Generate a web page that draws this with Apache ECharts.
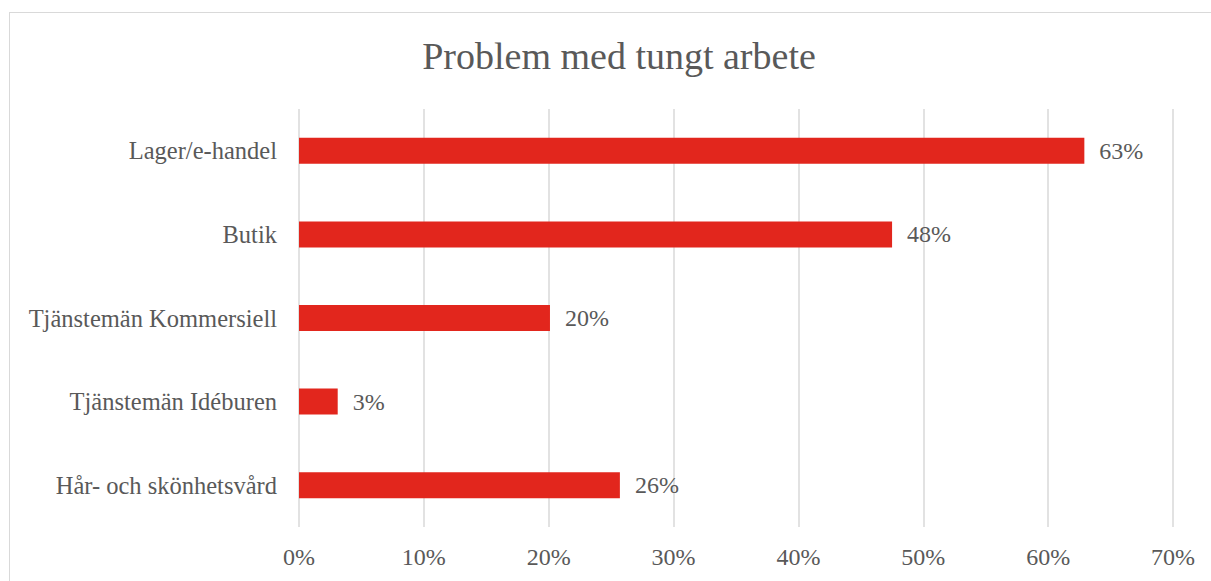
<!DOCTYPE html>
<html>
<head>
<meta charset="utf-8">
<script src="https://cdn.jsdelivr.net/npm/echarts@6/dist/echarts.min.js"></script>
<style>
  html, body { margin: 0; padding: 0; background: #fff; }
  #chart { width: 1211px; height: 581px; position: relative; }
  #frame { position: absolute; left: 9px; top: 12px; width: 1220px; height: 600px;
           border: 1px solid #d9d9d9; box-sizing: border-box; pointer-events: none; }
</style>
</head>
<body>
<div id="chart"></div>
<div id="frame"></div>
<script>
var categories = ['Lager/e-handel', 'Butik', 'Tjänstemän Kommersiell', 'Tjänstemän Idéburen', 'Hår- och skönhetsvård'];
var shares = [62.9, 47.5, 20.1, 3.1, 25.7];
var tickMax = 70;
var tickStep = 10;

var serif = '"Liberation Serif", "DejaVu Serif", serif';
var textGray = '#595959';
var gridGray = '#d9d9d9';
var barRed = '#e2261d';

var chart = echarts.init(document.getElementById('chart'), null, { renderer: 'svg' });
chart.setOption({
  animation: false,
  title: {
    text: 'Problem med tungt arbete',
    left: 614,
    top: 32,
    textAlign: 'center',
    textStyle: { fontFamily: serif, fontSize: 38, fontWeight: 'normal', color: textGray }
  },
  grid: { left: 299, right: 38, top: 109, bottom: 54 },
  xAxis: {
    type: 'value',
    min: 0,
    max: tickMax,
    interval: tickStep,
    axisLine: { show: false },
    axisTick: { show: false },
    axisLabel: {
      formatter: '{value}%',
      margin: 18,
      color: textGray,
      fontFamily: serif,
      fontSize: 24
    },
    splitLine: { show: true, lineStyle: { color: gridGray, width: 1.5 } }
  },
  yAxis: {
    type: 'category',
    data: categories,
    inverse: true,
    axisLine: { show: false },
    axisTick: { show: false },
    axisLabel: { margin: 22, color: textGray, fontFamily: serif, fontSize: 24.5 }
  },
  series: [{
    type: 'bar',
    data: shares,
    barWidth: 26,
    itemStyle: { color: barRed },
    label: {
      show: true,
      position: 'right',
      distance: 15,
      color: textGray,
      fontFamily: serif,
      fontSize: 24,
      formatter: function(p) { return Math.round(p.value) + '%'; }
    }
  }]
});
</script>
</body>
</html>
